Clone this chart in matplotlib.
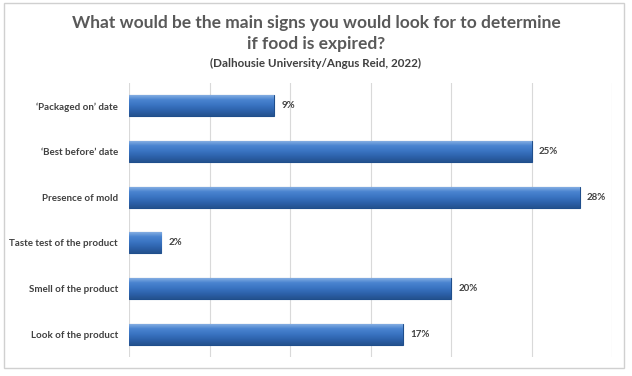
import matplotlib.pyplot as plt
import numpy as np
from matplotlib.patches import Rectangle

plt.rcParams['font.family'] = ['Lato', 'DejaVu Sans']

# survey data
categories = ["\u2018Packaged on\u2019 date", "\u2018Best before\u2019 date", "Presence of mold",
              "Taste test of the product", "Smell of the product", "Look of the product"]
values = [9, 25, 28, 2, 20, 17]
value_labels = ["9%", "25%", "28%", "2%", "20%", "17%"]

fig = plt.figure(figsize=(6.32, 3.76), dpi=100)
ax = fig.add_axes([129 / 632, 1 - 357 / 376, (612 - 129) / 632, (357 - 83) / 376])

# outer frame like the chart area border
fig.patches.append(Rectangle((4 / 632, 1 - 368 / 376), 620 / 632, 365 / 376,
                             transform=fig.transFigure, fill=False, edgecolor='#d0d0d0', lw=1))

y = np.arange(len(categories))
bars = ax.barh(y, values, height=0.46, color='#3a74c2', edgecolor='#1f4e8c', lw=0.8, zorder=3)

# vertical gradient on each bar to imitate the shaded look
grad = np.linspace(0, 1, 64).reshape(-1, 1)
cmap = plt.matplotlib.colors.LinearSegmentedColormap.from_list(
    'barshade', ['#8fb6e6', '#4a84d0', '#3a74c2', '#2d62ab', '#24528f'])
for b in bars:
    x0, y0 = b.get_x(), b.get_y()
    w, h = b.get_width(), b.get_height()
    im = ax.imshow(grad, extent=[x0, x0 + w, y0 + h, y0], aspect='auto', cmap=cmap, zorder=3.5,
                   origin='upper')
    im.set_clip_path(b)

for yi, v, lab in zip(y, values, value_labels):
    ax.text(v + 0.45, yi, lab, va='center', ha='left', fontsize=7, fontweight='bold', color='#404040')

ax.set_xlim(0, 30)
ax.set_ylim(len(categories) - 0.5, -0.5)
ax.set_xticks(np.arange(0, 31, 5))
ax.xaxis.grid(True, color='#d9d9d9', lw=0.8, zorder=0)
ax.tick_params(axis='x', length=0, labelbottom=False)
ax.tick_params(axis='y', length=0, pad=8)
ax.set_yticks(y)
ax.set_yticklabels(categories, fontsize=7, fontweight='bold', color='#404040')
for s in ax.spines.values():
    s.set_visible(False)

fig.text(0.5, 1 - 23 / 376, "What would be the main signs you would look for to determine",
         ha='center', va='center', fontsize=12.5, fontweight='bold', color='#595959')
fig.text(0.5, 1 - 44 / 376, "if food is expired?",
         ha='center', va='center', fontsize=12.5, fontweight='bold', color='#595959')
fig.text(0.5, 1 - 63 / 376, "(Dalhousie University/Angus Reid, 2022)",
         ha='center', va='center', fontsize=8.4, fontweight='bold', color='#404040')

fig.savefig('out.png', dpi=100)
